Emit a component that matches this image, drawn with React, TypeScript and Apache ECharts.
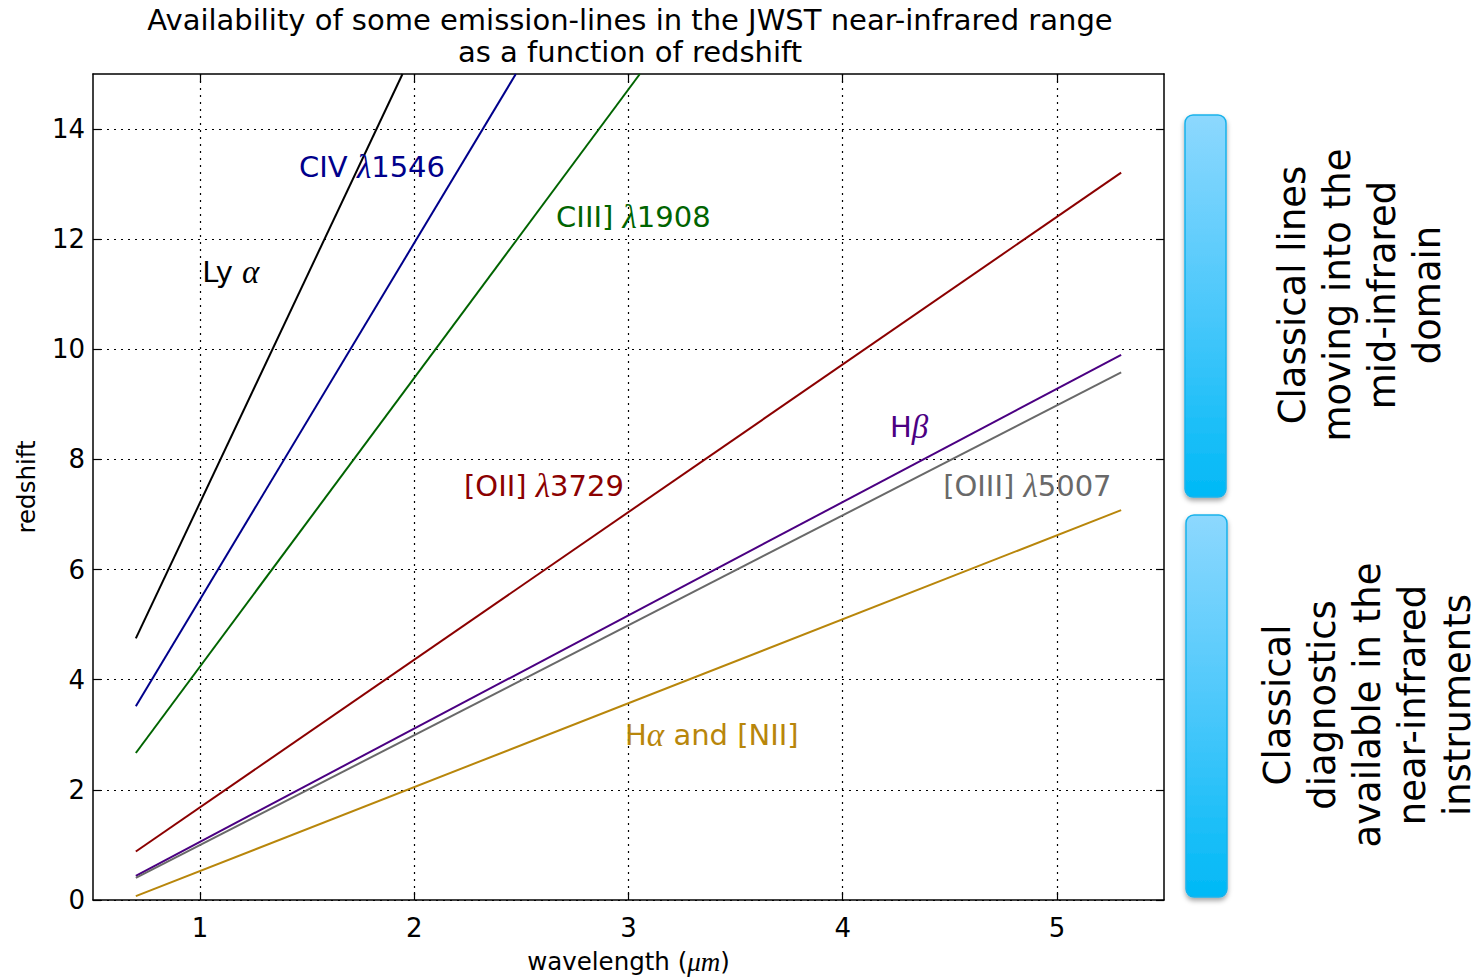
import { useEffect, useRef } from 'react';
import * as echarts from 'echarts';

// ---------- data ----------
const titleText = 'Availability of some emission-lines in the JWST near-infrared range\nas a function of redshift';
const xTicks = [1, 2, 3, 4, 5];
const yTicks = [0, 2, 4, 6, 8, 10, 12, 14];
const xMin = 0.5;
const xMax = 5.5;
const yMin = 0;
const yMax = 15;

const lineNames = ['Ly α', 'CIV λ1546', 'CIII] λ1908', '[OII] λ3729', 'Hβ', '[OIII] λ5007', 'Hα and [NII]'];
const lineColors = ['#000000', '#00008B', '#006400', '#8B0000', '#4B0082', '#696969', '#B8860B'];

// observed wavelength (µm) and redshift at the two ends of each line
const lyaWave = [0.7, 1.945];
const lyaZ = [4.75, 15.0];
const civWave = [0.7, 2.474];
const civZ = [3.52, 15.0];
const ciiiWave = [0.7, 3.053];
const ciiiZ = [2.67, 15.0];
const oiiWave = [0.7, 5.3];
const oiiZ = [0.88, 13.21];
const hbWave = [0.7, 5.3];
const hbZ = [0.44, 9.9];
const oiiiWave = [0.7, 5.3];
const oiiiZ = [0.4, 9.58];
const haWave = [0.7, 5.3];
const haZ = [0.07, 7.08];

const lineWaves = [lyaWave, civWave, ciiiWave, oiiWave, hbWave, oiiiWave, haWave];
const lineZs = [lyaZ, civZ, ciiiZ, oiiZ, hbZ, oiiiZ, haZ];

// annotation text (plain part, greek/math part, trailing part) and anchor (left, middle)
const labelPre = ['Ly ', 'CIV ', 'CIII] ', '[OII] ', 'H', '[OIII] ', 'H'];
const labelMath = ['α', 'λ', 'λ', 'λ', 'β', 'λ', 'α'];
const labelPost = ['', '1546', '1908', '3729', '', '5007', ' and [NII]'];
const labelWave = [1.01, 1.462, 2.662, 2.232, 4.221, 4.469, 2.984];
const labelZ = [11.41, 13.31, 12.41, 7.52, 8.59, 7.52, 3.0];

const sideTexts = [
  'Classical lines\nmoving into the\nmid-infrared\ndomain',
  'Classical\ndiagnostics\navailable in the\nnear-infrared\ninstruments',
];

const FONT = 'DejaVu Sans';
const MATH_FONT = 'Liberation Serif';

export default function App() {
  const ref = useRef<HTMLDivElement>(null);

  useEffect(() => {
    if (!ref.current) return;
    const chart = echarts.init(ref.current, undefined, { renderer: 'svg' });

    const series: any[] = lineNames.map((name, i) => {
      const fmt =
        (labelPre[i] ? `{n|${labelPre[i]}}` : '') +
        `{m|${labelMath[i]}}` +
        (labelPost[i] ? `{n|${labelPost[i]}}` : '');
      return {
        name,
        type: 'line',
        xAxisIndex: 0,
        yAxisIndex: 0,
        showSymbol: false,
        symbol: 'none',
        clip: true,
        data: lineWaves[i].map((w, j) => [w, lineZs[i][j]]),
        lineStyle: { color: lineColors[i], width: 2 },
        itemStyle: { color: lineColors[i] },
        markPoint: {
          silent: true,
          symbol: 'circle',
          symbolSize: 0,
          data: [
            {
              coord: [labelWave[i], labelZ[i]],
              label: {
                show: true,
                position: 'right',
                distance: 0,
                color: lineColors[i],
                formatter: fmt,
                rich: {
                  n: { fontFamily: FONT, fontSize: 29, color: lineColors[i] },
                  m: {
                    fontFamily: MATH_FONT,
                    fontStyle: 'italic',
                    fontSize: 33,
                    color: lineColors[i],
                  },
                },
              },
            },
          ],
        },
      };
    });

    const boxGradient = () =>
      new echarts.graphic.LinearGradient(0, 0, 0, 1, [
        { offset: 0, color: '#8DD8FE' },
        { offset: 0.5, color: '#4CC8FB' },
        { offset: 1, color: '#00B9F6' },
      ]);

    const option: any = {
      animation: false,
      backgroundColor: '#ffffff',
      title: {
        text: titleText,
        left: 630,
        top: 4,
        padding: 0,
        textAlign: 'center',
        textStyle: {
          fontFamily: FONT,
          fontSize: 29,
          fontWeight: 'normal',
          color: '#000',
          lineHeight: 32,
        },
      },
      grid: { left: 93, top: 74, right: 316, bottom: 77, containLabel: false },
      xAxis: [
        {
          type: 'value',
          min: xMin,
          max: xMax,
          position: 'bottom',
          name: '{n|wavelength (}{m|μm}{n|)}',
          nameLocation: 'middle',
          nameGap: 48,
          nameTextStyle: {
            rich: {
              n: { fontFamily: FONT, fontSize: 24.5, color: '#000' },
              m: { fontFamily: MATH_FONT, fontStyle: 'italic', fontSize: 27, color: '#000' },
            },
          },
          axisLine: { show: true, onZero: false, lineStyle: { color: '#000', width: 1.5 } },
          axisTick: {
            show: true,
            inside: true,
            length: 8,
            customValues: xTicks,
            lineStyle: { color: '#000', width: 1.2 },
          },
          axisLabel: {
            customValues: xTicks,
            color: '#000',
            fontFamily: FONT,
            fontSize: 26,
            margin: 15,
          },
          splitLine: { show: true, lineStyle: { color: '#000', width: 1.2, type: [2, 5] } },
        },
        {
          type: 'value',
          min: xMin,
          max: xMax,
          position: 'top',
          axisLine: { show: true, onZero: false, lineStyle: { color: '#000', width: 1.5 } },
          axisTick: {
            show: true,
            inside: true,
            length: 8,
            customValues: xTicks,
            lineStyle: { color: '#000', width: 1.2 },
          },
          axisLabel: { show: false, customValues: xTicks },
          splitLine: { show: false },
        },
      ],
      yAxis: [
        {
          type: 'value',
          min: yMin,
          max: yMax,
          position: 'left',
          name: 'redshift',
          nameLocation: 'middle',
          nameGap: 54,
          nameTextStyle: { fontFamily: FONT, fontSize: 24.5, color: '#000' },
          axisLine: { show: true, onZero: false, lineStyle: { color: '#000', width: 1.5 } },
          axisTick: {
            show: true,
            inside: true,
            length: 8,
            customValues: yTicks,
            lineStyle: { color: '#000', width: 1.2 },
          },
          axisLabel: {
            customValues: yTicks,
            color: '#000',
            fontFamily: FONT,
            fontSize: 26,
            margin: 8,
          },
          splitLine: { show: true, lineStyle: { color: '#000', width: 1.2, type: [2, 5] } },
        },
        {
          type: 'value',
          min: yMin,
          max: yMax,
          position: 'right',
          axisLine: { show: true, onZero: false, lineStyle: { color: '#000', width: 1.5 } },
          axisTick: {
            show: true,
            inside: true,
            length: 8,
            customValues: yTicks,
            lineStyle: { color: '#000', width: 1.2 },
          },
          axisLabel: { show: false, customValues: yTicks },
          splitLine: { show: false },
        },
      ],
      series,
      graphic: [
        {
          type: 'rect',
          shape: { x: 1185, y: 115, width: 41, height: 382, r: 8 },
          style: {
            fill: boxGradient(),
            stroke: '#19B2EA',
            lineWidth: 1.5,
            shadowBlur: 5,
            shadowOffsetY: 3,
            shadowColor: 'rgba(0,0,0,0.35)',
          },
          z: 10,
        },
        {
          type: 'rect',
          shape: { x: 1186, y: 515, width: 41, height: 382, r: 8 },
          style: {
            fill: boxGradient(),
            stroke: '#19B2EA',
            lineWidth: 1.5,
            shadowBlur: 5,
            shadowOffsetY: 3,
            shadowColor: 'rgba(0,0,0,0.35)',
          },
          z: 10,
        },
        {
          type: 'text',
          x: 1360,
          y: 295,
          rotation: Math.PI / 2,
          style: {
            text: sideTexts[0],
            fontFamily: FONT,
            fontSize: 37,
            lineHeight: 45,
            fill: '#000',
            align: 'center',
            verticalAlign: 'middle',
          },
          z: 10,
        },
        {
          type: 'text',
          x: 1367,
          y: 705,
          rotation: Math.PI / 2,
          style: {
            text: sideTexts[1],
            fontFamily: FONT,
            fontSize: 37,
            lineHeight: 45,
            fill: '#000',
            align: 'center',
            verticalAlign: 'middle',
          },
          z: 10,
        },
      ],
    };

    chart.setOption(option);
    return () => chart.dispose();
  }, []);

  return (
    <div
      ref={ref}
      style={{ position: 'absolute', left: 0, top: 0, width: 1480, height: 980, background: '#fff' }}
    />
  );
}
